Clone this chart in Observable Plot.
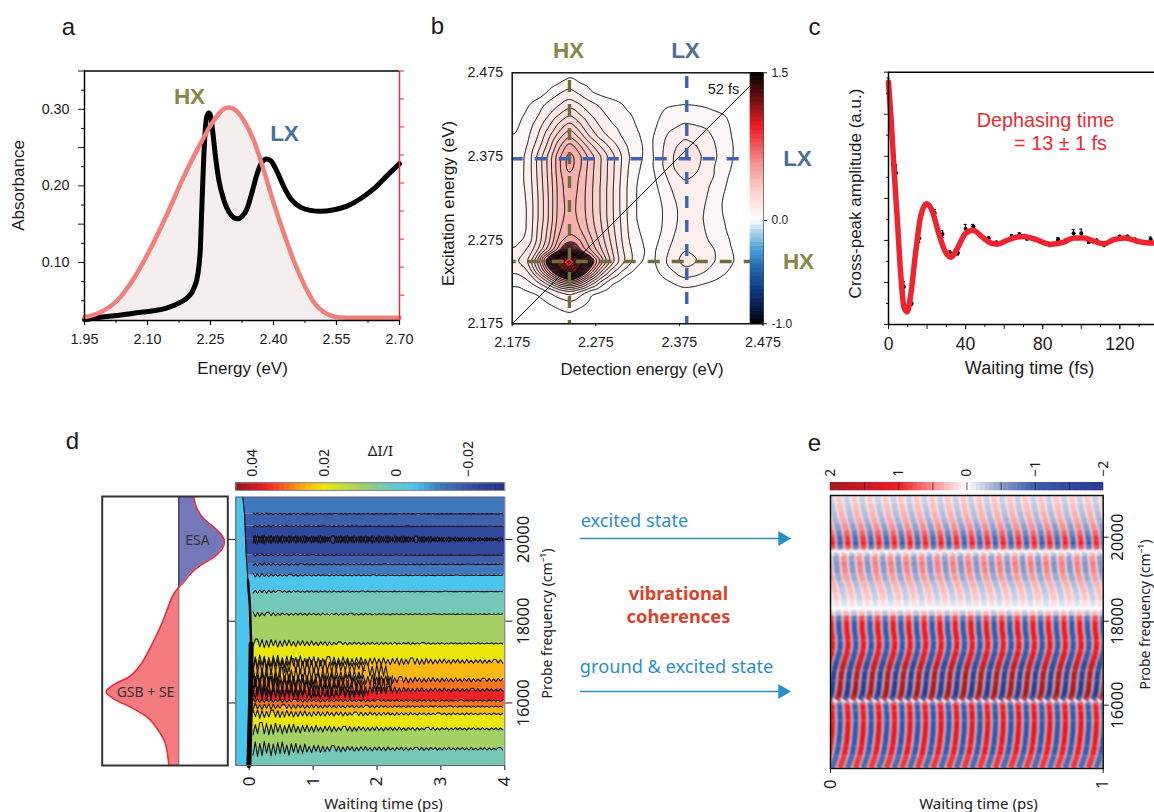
<!DOCTYPE html>
<html><head><meta charset="utf-8">
<script src="https://cdn.jsdelivr.net/npm/d3@7"></script>
<script src="https://cdn.jsdelivr.net/npm/@observablehq/plot@0.6"></script>
<style>html,body{margin:0;padding:0;background:#fff;overflow:hidden}#page{position:relative;width:1154px;height:812px;overflow:hidden}</style>
</head><body><div id="page"></div>
<script>
// ---------- panel a ----------
const absEnergy=[1.950,1.988,2.028,2.067,2.107,2.147,2.179,2.198,2.210,2.220,2.226,2.230,2.234,2.238,2.242,2.246,2.250,2.255,2.262,2.270,2.282,2.294,2.306,2.315,2.325,2.337,2.349,2.361,2.373,2.383,2.394,2.409,2.425,2.444,2.464,2.488,2.512,2.544,2.575,2.607,2.639,2.671,2.700];
const absValue=[.0251,.0285,.0307,.0338,.0364,.0407,.0481,.0556,.0656,.0852,.1200,.1810,.2377,.2769,.2922,.2952,.2922,.2725,.2377,.2072,.1810,.1658,.1584,.1571,.1601,.1702,.1919,.2159,.2312,.2351,.2325,.2181,.1985,.1810,.1723,.1680,.1667,.1688,.1736,.1832,.1963,.2137,.2290];
const emEnergy=[1.950,1.988,2.028,2.067,2.107,2.147,2.186,2.226,2.258,2.278,2.294,2.310,2.329,2.353,2.377,2.401,2.425,2.448,2.472,2.496,2.520,2.544,2.575,2.700];
const emValue=[.0285,.0351,.0503,.0787,.1179,.1636,.2115,.2551,.2856,.2987,.3022,.2987,.2856,.2595,.2203,.1767,.1375,.1026,.0721,.0481,.0351,.0294,.0277,.0277];
const aXMajor=[1.95,2.10,2.25,2.40,2.55,2.70];
const aXMinor=[2.025,2.175,2.325,2.475,2.625];
const aYLabelled=[.10,.20,.30];
const aYMajor=[.15,.25,.35];
const aYMinor=[.05,.075,.125,.175,.225,.275,.325];
const aRedTicks=[.0573,.0939,.1305,.1671,.2037,.2403,.2769,.3135,.35];
// ---------- panel b ----------
const bDetection=[2.1685,2.181,2.1935,2.206,2.2185,2.231,2.2435,2.256,2.2685,2.281,2.2935,2.306,2.3185,2.331,2.3435,2.356,2.3685,2.381,2.3935,2.406,2.4185,2.431,2.4435,2.456,2.4685];
const bExcitation=[2.475,2.4625,2.45,2.4375,2.425,2.4125,2.40,2.3875,2.375,2.3625,2.35,2.3375,2.325,2.3125,2.30,2.2875,2.275,2.2625,2.25,2.2375,2.225,2.2125,2.20,2.1875,2.175];
const bLevelStep=0.05;
// amplitude in contour levels, top row first
const bLevels=[
[0,0,0,0,.1,.3,.6,.3,.1,0,0,0,0,0, 0,0,0,0,0,0,0,0,0,0,0],
[0,0,0,.2,.5,.95,1.6,1.0,.7,.4,.2,.1,0,0, 0,0,0,0,0,0,0,0,0,0,0],
[0,0,.1,.5,1.2,2.0,2.5,1.9,1.1,.8,.5,.2,.1,0, 0,.1,.2,.3,.2,.1,0,0,0,0,0],
[.1,.3,.9,1.5,2.3,2.9,3.6,3.0,2.3,1.8,1.5,1.1,.5,.1, .3,.8,.9,1.0,.95,.85,.6,.2,.1,0,0],
[.3,.6,1.2,1.9,2.9,4.0,5,4.0,3.0,2.2,1.7,1.4,1.0,.3, .5,1.15,1.5,1.6,1.5,1.4,1.2,1.0,.4,.1,0],
[.5,.85,1.6,2.5,3.8,5.3,6.5,5.2,3.8,2.8,2.1,1.7,1.2,.6, .7,1.5,1.8,2.1,2.0,1.9,1.5,1.2,.6,.2,0],
[.95,1.1,1.8,3.0,4.7,6.5,8,6.5,4.7,3.4,2.6,1.9,1.3,.9, .9,1.8,2.4,2.9,2.6,2.3,1.8,1.3,.7,.2,0],
[1.3,1.4,2.0,3.6,5.4,7.8,9.7,8.2,6.4,4.9,3.6,2.5,1.6,.95, .9,2.0,2.9,3.3,3.1,2.6,2.0,1.4,.8,.3,0],
[1.4,1.45,2.3,4.3,6.3,8.8,10.6,9.3,7.6,6.1,4.5,3.0,1.7,.95, .85,2.1,3.1,3.5,3.4,2.8,2.1,1.4,.8,.3,0],
[1.4,1.45,2.3,4.3,6.3,8.8,10.6,9.2,7.5,6.0,4.4,2.9,1.5,.85, .9,2.1,3.1,3.6,3.3,2.6,1.9,1.3,.7,.2,0],
[1.4,1.5,2.3,4.2,6.2,8.6,9.9,8.9,7.4,6.0,4.4,2.8,1.4,.7, .8,1.7,2.6,3.2,2.9,2.4,1.9,1.1,.5,.1,0],
[1.4,1.5,2.2,4.1,6.1,8.5,9.7,8.8,7.3,5.9,4.3,2.7,1.3,.6, .7,1.4,2.2,2.7,2.6,2.2,1.6,.95,.4,0,0],
[1.4,1.5,2.1,4.0,6.0,8.5,9.5,8.7,7.3,5.9,4.3,2.7,1.3,.6, .5,1.2,2.0,2.3,2.3,2.1,1.4,.8,.3,0,0],
[1.4,1.5,2.0,4.0,6.0,8.5,9.4,8.7,7.3,5.9,4.3,2.7,1.3,.6, .4,1.05,1.9,2.2,2.2,2.0,1.3,.8,.3,0,0],
[1.4,1.5,2.0,4.0,6.0,8.6,9.5,8.8,7.4,6.0,4.3,2.8,1.3,.6, .4,1.05,1.9,2.2,2.2,1.95,1.35,.9,.3,0,0],
[1.4,1.6,2.0,4.2,6.3,8.9,9.8,9.1,7.7,6.2,4.5,2.9,1.4,.8, .5,1.1,1.95,2.3,2.3,2.0,1.5,1.0,.4,0,0],
[1.5,1.7,2.2,4.3,6.6,9.4,10.6,10.0,8.3,6.6,4.8,3.0,1.6,.95, .6,1.35,2.1,2.6,2.5,2.1,1.7,1.2,.6,0,0],
[2.0,2.2,3.2,5,7.5,10.5,13.5,11,9,7.2,5.2,3.2,1.9,1.05, .8,1.6,2.4,3.05,2.8,2.3,2.0,1.3,.8,.1,0],
[2.6,3,4,7.5,13,18,22,17,13,9,5.8,3.5,2.0,.95, .8,1.8,2.8,3.4,3.2,2.5,2.0,1.4,.9,.1,0],
[2.2,2.2,2.8,6,10,14,18,14,10,6,3.4,1.9,.95,.4, .6,1.35,2.0,2.8,2.5,2.05,1.5,1.1,.5,0,0],
[1.3,1.2,1.8,3,5,8,9.5,8,5,2.6,1.2,.6,.2,.1, .3,.7,1.1,1.5,1.4,1.1,.9,.5,.2,0,0],
[.6,.7,.9,1.1,1.8,2.6,3.4,2.3,1.1,.8,.4,.1,0,0, 0,.2,.4,.6,.5,.4,.3,.1,0,0,0],
[.1,.2,.4,.7,1.05,1.5,1.8,1.4,.8,.3,.1,0,0,0, 0,0,0,0,0,0,0,0,0,0,0],
[0,0,0,.1,.3,.7,.98,.6,.2,0,0,0,0,0, 0,0,0,0,0,0,0,0,0,0,0],
[0,0,0,0,0,.1,.3,.1,0,0,0,0,0,0, 0,0,0,0,0,0,0,0,0,0,0]];
const bContourNumbers=[1,2,3,4,5,6,7,8,9,10,11,11.25,11.5,11.75,12,12.25,12.5,12.75,13,13.25,13.5,13.75,14,14.25,14.5,14.75,15,15.25,15.5,15.75,16,16.5,17,17.5,18,18.5,19,20,21];
const bTicks=[2.175,2.275,2.375,2.475];
const bHX={detection:2.2435,excitation:2.2495};
const bLX={detection:2.3838,excitation:2.3722};
const bDiagonal=[2.175,2.46];
const bColorDomain=[-1,-.75,-.5,-.3,-.1,0,.3,.55,.95,1.2,1.5];
const bColorRange=["#000000","#0b2a6e","#1f5ca8","#3f9ad6","#b7d8ee","#ffffff","#fad0cc","#f49a98","#ed1c24","#7a1015","#000000"];
// ---------- panel c ----------
const fitTime=[0,1.4,2.8,4.5,6.2,8,9.7,11.4,14,16.6,19.7,22.6,26.1,29.6,32.5,35.6,39.9,43.9,48.6,52.9,56.4,61.5,66.7,70.2,75.4,84,90.9,96.1,101.3,106.5,111.7,116.9,122.9,129,135,138];
const fitValue=[3.76,2.85,1.74,.55,-.71,-1.58,-1.70,-1.34,-.32,.55,.87,.71,.16,-.28,-.40,-.20,.16,.24,.08,-.06,-.09,0,.08,.09,.04,-.09,-.04,.06,.06,-.02,-.08,.02,.06,-.02,-.06,-.06];
const ptTime=[0,4,8,12,16,20,24,28,32,36,40,44,48,52,56,60,64,68,72,76,80,84,88,92,96,100,104,108,112,116,120,124,128,132,136];
const ptValue=[3.78,1.6,-1.1,-1.5,.05,.85,.65,.15,-.3,-.3,.28,.33,.1,.05,-.05,-.03,.09,.14,.04,.02,-.04,-.1,.03,-.02,.17,.17,-.04,0,-.1,-.01,.09,.09,.02,-.05,.03];
const ptError=[.08,.2,.12,.05,.1,.05,.08,.08,.05,.05,.1,.05,.03,.03,.03,.03,.05,.04,.03,.03,.03,.05,.03,.05,.09,.1,.03,.03,.05,.03,.03,.03,.03,.03,.05];
const cXMajor=[0,20,40,60,80,100,120];
const cXMinor=[10,30,50,70,90,110,130];
const cXLabels=[0,40,80,120];
const cYMajor=[-2,-1,0,1,2,3,4];
const cYMinor=[-1.5,-.5,.5,1.5,2.5,3.5];
// ---------- panel d ----------
const specFreq=[21016,20732,20488,20285,20081,19919,19756,19553,19350,19146,18943,18821,18659,18374,18049,17683,17276,16870,16626,16463,16260,16098,15894,15650,15366,14999,14471];
const specSignal=[-.0103,-.0126,-.0172,-.0241,-.0298,-.0314,-.0298,-.0241,-.0149,-.0080,-.0034,0,.0034,.0069,.0103,.0149,.0206,.0275,.0344,.0436,.0500,.0447,.0333,.0218,.0149,.0092,.0069];
const dFreqDomain=[14470,21032];
const dFreqTicks=[16000,18000,20000];
const dTimeTicks=[0,1,2,3,4];
const dBandEdges=[21032,20626,20325,20000,19618,19390,19122,18724,18171,17455,17016,16561,16317,16057,15911,15732,15366,14878,14470];
const dBandValues=[-.012,-.017,-.022,-.022,-.017,-.012,-.005,.003,.01,.02,.025,.03,.036,.03,.025,.02,.01,.003];
const dOnsetFreq=[21032,20626,19618,19122,18724,18171,17455,16000,14470];
const dOnsetTime=[-.10,-.073,-.044,-.005,.03,.05,.05,.05,.03];
const dColorDomain=[-.03,-.022,-.017,-.012,-.005,.003,.01,.02,.025,.03,.036,.0447];
const dColorRange=["#2a2f82","#31479c","#3d5fac","#3f78bc","#4dc4ec","#74c9b6","#a3d164","#ebe60e","#fdb813","#f47421","#ed2224","#8e1a1d"];
const dBarTicks=[.04,.02,0,-.02];
const dBarLabels=["0.04","0.02","0","\u22120.02"];
const ampTimes=[.1,.5,1,1.5,2,2.5,3,4];
const dLineFreq=[20626,20325,19618,19390,19122,18724,18171,17455,17016,16561,16317,16057,15911,15732,15366,14878];
const dLineAmp=[[25,15,12,8,7,7,5,5],[25,15,10,8,6,5,4,3],[30,15,10,8,6,5,4,3],[40,25,20,15,12,10,8,6],[50,25,20,15,12,10,8,6],[50,25,20,15,12,10,8,6],[60,30,25,25,20,15,12,10],[110,90,60,35,30,25,18,14],[160,150,130,110,90,90,60,45],[180,150,150,140,130,70,55,40],[200,180,170,170,110,55,45,35],[45,45,35,30,25,25,20,15],[80,60,45,35,28,22,20,15],[110,90,65,50,40,32,25,20],[170,130,90,65,50,42,32,28],[190,170,100,65,50,42,35,30]];
const dExtraFreq=[16900,16680,16440,16220];
const dExtraAmp=[[220,200,170,130,100,0,0,0],[220,200,170,140,110,0,0,0],[220,190,150,130,110,0,0,0],[170,150,120,110,90,0,0,0]];
const dBumpFreq=[16450,16790];
const dBumpSpan=[[1.9,2.25],[1.85,2.2]];
const dBumpAmp=[[230,230,230,230,230,230,230,230],[170,170,170,170,170,170,170,170]];
const dChainFreq=20000;
const dChainAmp=[115,100,95,95,90,85,65,35];
const wiggleShape=[1,-.8,.9,-1,.7,-.9,1,-.6,.8,-.95,.65,-.85,.9,-.7,1,-.75,.6,-1,.85,-.65,.95,-.8,.7,-.9,1,-.7,.55,-.95,.8,-.6,.9,-1,.75,-.85,.6,-.7,.95];
const dFrontTime=[-.10,-.073,-.047,-.02,.01,.03,.02,-.005];
const dFrontFreq=[21032,20626,19618,19000,18400,17450,16000,14470];
// ---------- panel e ----------
const eFreqDomain=[14493,20993];
const eFreqTicks=[16000,18000,20000];
const eKnotFreq=[20993,20802,20636,20469,20326,20160,20040,19921,19802,19707,19636,19564,19445,19326,19136,18969,18802,18659,18493,18350,18302,18255,18136,18017,17779,17540,17302,17064,16826,16588,16350,16183,16124,16076,16017,15874,15636,15398,15041,14803,14493];
const eKnotLag=[-.033,-.031,-.0245,-.02,-.012,-.0055,-.0018,0,.0011,.0018,-.011,-.0157,-.0139,-.0117,-.0092,-.0018,.0073,.0121,.0165,.0146,-.0062,-.0062,-.0055,-.0044,-.0037,.0018,0,-.011,-.022,-.0256,-.0293,-.0348,-.0403,-.0037,-.0018,0,.0011,0,-.0055,-.0128,-.0293];
const eKnotAmp=[.25,.3,.35,.4,.5,.7,.9,1,.8,.5,.3,.5,.6,.55,.45,.35,.3,.25,.15,.02,.02,.3,.8,1,1,1.05,1.1,1.5,1.8,1.9,1.9,1.7,1.3,.8,1,1.05,1.1,1.1,1,.9,.6];
const eKnotBreaks=[19707,18350,16124];
const eRedCrests=[.0062,.0632,.1201,.1771,.2340,.2910,.3480,.4049,.4619,.5188,.5758,.6328,.6897,.7467,.8036,.8606,.9176,.9745,1.0315,1.0885];
const eBlueCrests=[-.0223,.0347,.0917,.1486,.2056,.2625,.3195,.3765,.4334,.4904,.5473,.6043,.6613,.7182,.7752,.8321,.8891,.9461,1.003,1.06];
const eColorDomain=[-2,-1,-.5,0,.5,1,2];
const eColorRange=["#2b3990","#3a5aa8","#8f9ccb","#ffffff","#f68d91","#ed1c24","#a01c22"];
const eBarTicks=[2,1,0,-1,-2];
const eBarInner=[1.5,1,.5,0,-.5,-1,-1.5];
const eBarLabels=["2","1","0","\u22121","\u22122"];

// ---------- helpers ----------
const SANS='"Liberation Sans",Arial,sans-serif';
const MYR='"Noto Sans",sans-serif';
const page=document.getElementById("page");
function panel(box,opts,font=SANS,size=14){
  const {x,y,...rest}=opts;
  const svg=Plot.plot({width:1154,height:812,marginLeft:box.l,marginTop:box.t,marginRight:1154-box.r,marginBottom:812-box.b,
    x:{axis:null,...x},y:{axis:null,...y},
    style:{background:"transparent",position:"absolute",left:"0",top:"0",overflow:"visible",fontFamily:font,fontSize:size+"px",color:"#1a1a1a"},...rest});
  page.appendChild(svg);return svg;
}
const none=()=>"";
const zip=(a,b,k1="x",k2="y")=>a.map((d,i)=>({[k1]:d,[k2]:b[i]}));
const steps=(lo,hi,n)=>d3.range(n).map(i=>({a:lo+(hi-lo)*i/n,b:lo+(hi-lo)*(i+1)/n,v:lo+(hi-lo)*(i+.5)/n}));

// ---------- panel a ----------
{
 const abs=zip(absEnergy,absValue),em=zip(emEnergy,emValue),low=.0242;
 panel({l:84,t:70.5,r:399,b:320},{x:{domain:[1.95,2.70]},y:{domain:[low,.35]},marks:[
  Plot.areaY(em,{x:"x",y1:low,y2:"y",fill:"#f4eeee",curve:"monotone-x"}),
  Plot.line(abs,{x:"x",y:"y",stroke:"#000",strokeWidth:5,curve:"monotone-x"}),
  Plot.line(em,{x:"x",y:"y",stroke:"#f27f7c",strokeWidth:4.5,curve:"monotone-x"}),
  Plot.axisX(aXMajor,{tickSize:5,tickPadding:8,tickFormat:d3.format(".2f"),stroke:"#000",strokeWidth:1.2,label:null}),
  Plot.axisX(aXMinor,{tickSize:3,tickFormat:none,label:null}),
  Plot.axisY(aYLabelled,{tickSize:6,tickPadding:9,tickFormat:d3.format(".2f"),label:null}),
  Plot.axisY(aYMajor,{tickSize:6,tickFormat:none,label:null}),
  Plot.axisY(aYMinor,{tickSize:3,tickFormat:none,label:null}),
  Plot.axisY(aRedTicks,{anchor:"right",tickSize:4,stroke:"#ee2a35",tickFormat:none,label:null}),
  Plot.ruleY([.35],{stroke:"#000",strokeWidth:1.5}),
  Plot.ruleY([low],{stroke:"#000",strokeWidth:1.5}),
  Plot.ruleX([1.95],{stroke:"#000",strokeWidth:1.5}),
  Plot.ruleX([2.70],{stroke:"#ee2a35",strokeWidth:1.5})
 ]},SANS,14.3);
}
// ---------- panel b ----------
{
 const table=bExcitation.flatMap((y,r)=>bDetection.map((x,c)=>({x,y,v:bLevels[r][c]*bLevelStep})));
 const dash=(c,o)=>({stroke:c,strokeWidth:3.4,strokeDasharray:"12 12",strokeDashoffset:o});
 const olive="#6d6e3c",blue="#4262b2";
 const colorB={type:"linear",domain:bColorDomain,range:bColorRange};
 panel({l:511.7,t:72.3,r:762.5,b:323.3},{x:{domain:[2.175,2.475]},y:{domain:[2.175,2.475]},color:colorB,marks:[
  Plot.contour(table,{x:"x",y:"y",value:"v",fill:"value",stroke:"#000",strokeWidth:1,interpolate:"barycentric",pixelSize:1,blur:2,thresholds:bContourNumbers.map(n=>n*bLevelStep),clip:true}),
  Plot.line(zip(bDiagonal,bDiagonal),{x:"x",y:"y",stroke:"#111",strokeWidth:1}),
  Plot.ruleX([bHX.detection],dash(olive,16.3)),
  Plot.ruleX([bLX.detection],dash(blue,20.3)),
  Plot.ruleY([bLX.excitation],dash(blue,1)),
  Plot.ruleY([bHX.excitation],dash(olive,8)),
  Plot.axisX(bTicks,{tickSize:3,tickPadding:10,tickFormat:d3.format(".3f"),label:null}),
  Plot.axisY(bTicks,{tickSize:0,tickPadding:9,tickFormat:d3.format(".3f"),label:null}),
  Plot.frame({stroke:"#111",strokeWidth:1.5})
 ]},SANS,14.3);
 // the colour bar runs in two linear pieces that meet at zero
 panel({l:750,t:72.3,r:763,b:220},{x:{domain:[0,1]},y:{domain:[0,1.5]},color:colorB,marks:[
  Plot.rect(steps(0,1.5,36),{x1:0,x2:1,y1:"a",y2:"b",fill:"v",inset:-.3}),
  Plot.axisY([0,1.5],{anchor:"right",tickSize:3,tickPadding:5,tickFormat:d=>d.toFixed(1),label:null})
 ]},SANS,12);
 panel({l:750,t:220,r:763,b:323.3},{x:{domain:[0,1]},y:{domain:[-1,0]},color:colorB,marks:[
  Plot.rect(steps(-1,0,24),{x1:0,x2:1,y1:"a",y2:"b",fill:"v",inset:-.3}),
  Plot.axisY([-1],{anchor:"right",tickSize:3,tickPadding:5,tickFormat:d=>d.toFixed(1),label:null})
 ]},SANS,12);
}
// ---------- panel c ----------
{
 const pts=ptTime.map((x,i)=>({x,y:ptValue[i],e:ptError[i]}));
 panel({l:888,t:71.7,r:1154,b:324},{x:{domain:[0,138]},y:{domain:[-2,4]},marks:[
  Plot.ruleX(pts,{x:"x",y1:d=>d.y-d.e,y2:d=>d.y+d.e,stroke:"#000",strokeWidth:1}),
  Plot.ruleY(pts,{y:d=>d.y+d.e,x1:d=>d.x-.8,x2:d=>d.x+.8,stroke:"#000",strokeWidth:1}),
  Plot.ruleY(pts,{y:d=>d.y-d.e,x1:d=>d.x-.8,x2:d=>d.x+.8,stroke:"#000",strokeWidth:1}),
  Plot.dot(pts,{x:"x",y:"y",r:2,fill:"#000"}),
  Plot.line(zip(fitTime,fitValue),{x:"x",y:"y",stroke:"#ee2530",strokeWidth:5.5,curve:"monotone-x"}),
  Plot.axisX(cXMajor,{tickSize:5,tickFormat:none,label:null}),
  Plot.axisX(cXMinor,{tickSize:3,tickFormat:none,label:null}),
  Plot.axisX(cXLabels,{tickSize:5,tickPadding:8,tickFormat:d3.format("d"),label:null}),
  Plot.axisY(cYMajor,{tickSize:4,tickFormat:none,label:null}),
  Plot.axisY(cYMinor,{tickSize:2,tickFormat:none,label:null}),
  Plot.ruleY([4],{stroke:"#000",strokeWidth:1.5}),
  Plot.ruleY([-2],{stroke:"#000",strokeWidth:1.5}),
  Plot.ruleX([0],{stroke:"#000",strokeWidth:1.5})
 ]},SANS,17.5);
}
// ---------- panel d ----------
{
 const spec=zip(specSignal,specFreq);
 panel({l:101.7,t:496,r:227.3,b:765},{x:{domain:[.0527,-.0337]},y:{domain:dFreqDomain},marks:[
  Plot.areaX(spec.filter(d=>d.x<=0),{y:"y",x1:()=>0,x2:"x",fill:"#7478b8",curve:"monotone-y"}),
  Plot.areaX(spec.filter(d=>d.x>=0),{y:"y",x1:()=>0,x2:"x",fill:"#f47b80",curve:"monotone-y"}),
  Plot.ruleX([0],{y1:18821,y2:21032,stroke:"#222",strokeWidth:1}),
  Plot.ruleX([0],{y1:14470,y2:18821,stroke:"#6b5a5a",strokeWidth:1}),
  Plot.line(spec,{x:"x",y:"y",stroke:"#ee2a35",strokeWidth:1.5,curve:"monotone-y"}),
  Plot.frame({stroke:"#333",strokeWidth:2})
 ]},MYR,14);
 const bands=dBandValues.map((v,i)=>({y1:dBandEdges[i],y2:dBandEdges[i+1],v}));
 const times=d3.range(.06,4.02,.0352);
 const wavy=(base,amps,i,sign=1,start=0,end=4)=>{const a=d3.scaleLinear(ampTimes,amps);
   return times.map((t,k)=>({id:i,t,f:base+sign*a(t)*wiggleShape[(k+i*5)%wiggleShape.length]})).filter(d=>d.t>=start&&d.t<=end);};
 const wig=[...dLineFreq.flatMap((f,i)=>wavy(f,dLineAmp[i],i)),
   ...dExtraFreq.flatMap((f,i)=>wavy(f,dExtraAmp[i],100+i,1,0,1.85)),
   ...dBumpFreq.flatMap((f,i)=>wavy(f,dBumpAmp[i],110+i,1,dBumpSpan[i][0],dBumpSpan[i][1])),
   ...wavy(dChainFreq,dChainAmp,200,1),...wavy(dChainFreq,dChainAmp,200+wiggleShape.length*100,-1)];
 const onset=zip(dOnsetTime,dOnsetFreq);
 const front=zip(dFrontTime,dFrontFreq);
 const colorD={type:"linear",domain:dColorDomain,range:dColorRange};
 panel({l:235.3,t:496.7,r:504.3,b:765},{x:{domain:[-.21,4]},y:{domain:dFreqDomain},color:colorD,marks:[
  Plot.rect(bands,{x1:-.21,x2:4,y1:"y1",y2:"y2",fill:"v"}),
  Plot.areaX(onset,{y:"y",x1:()=>-.21,x2:"x",fill:"#4dc4ec"}),
  Plot.line(wig,{x:"t",y:"f",z:"id",stroke:"#111",strokeWidth:1.1,clip:true}),
  Plot.line(front.slice(0,4),{x:"x",y:"y",stroke:"#111",strokeWidth:1.2}),
  Plot.line(front.slice(3,6),{x:"x",y:"y",stroke:"#000",strokeWidth:2.5}),
  Plot.line(front.slice(5),{x:"x",y:"y",stroke:"#000",strokeWidth:5}),
  Plot.axisX(dTimeTicks,{tickSize:5,tickPadding:6,tickRotate:-90,stroke:"#111",tickFormat:d3.format("d"),fontSize:17,label:null}),
  Plot.axisY(dFreqTicks,{anchor:"left",tickSize:7,tickFormat:none,label:null}),
  Plot.axisY(dFreqTicks,{anchor:"right",tickSize:7,tickPadding:17,tickRotate:-90,tickFormat:d3.format("d"),fontSize:16.5,label:null}),
  Plot.frame({stroke:"#667",strokeWidth:1})
 ]},MYR,14);
 panel({l:235.3,t:482.3,r:504.3,b:490},{x:{domain:[.0447,-.03]},y:{domain:[0,1]},color:colorD,marks:[
  Plot.rect(steps(-.03,.0447,50),{x1:"a",x2:"b",y1:0,y2:1,fill:"v",inset:-.3}),
  Plot.axisX(dBarTicks,{anchor:"top",tickSize:0,tickPadding:6,tickRotate:-90,tickFormat:d=>dBarLabels[dBarTicks.indexOf(d)],label:null}),
  Plot.frame({stroke:"#889",strokeWidth:1})
 ]},MYR,14);
}
// ---------- panel e ----------
{
 const section=f=>eKnotBreaks.filter(b=>f<=b-1).length;
 const knot=(crest,sign,id)=>eKnotFreq.map((f,i)=>({id:id+"-"+section(f),f,t:crest+eKnotLag[i],v:sign*eKnotAmp[i]}));
 const rows=[...eBlueCrests.flatMap((c,i)=>knot(c,-1,"b"+i)),...eRedCrests.flatMap((c,i)=>knot(c,1,"r"+i))];
 const colorE={type:"linear",domain:eColorDomain,range:eColorRange};
 panel({l:830,t:495,r:1102.7,b:768},{x:{domain:[0,1]},y:{domain:eFreqDomain},color:colorE,marks:[
  Plot.line(rows,{x:"t",y:"f",z:"id",stroke:"v",strokeWidth:6.3,clip:true,imageFilter:"blur(.8px)",strokeLinecap:"butt"}),
  Plot.axisX([0,1],{tickSize:5,tickPadding:6,tickRotate:-90,tickFormat:d3.format("d"),fontSize:16.5,label:null}),
  Plot.axisY(eFreqTicks,{anchor:"right",tickSize:5,tickPadding:15,tickRotate:-90,tickFormat:d3.format("d"),fontSize:16.5,label:null}),
  Plot.frame({stroke:"#111",strokeWidth:1.5})
 ]},MYR,14);
 panel({l:830,t:482.3,r:1103,b:490},{x:{domain:[2,-2]},y:{domain:[0,1]},color:colorE,marks:[
  Plot.rect(steps(-2,2,60),{x1:"a",x2:"b",y1:0,y2:1,fill:"v",inset:-.3}),
  Plot.ruleX(eBarInner,{stroke:"#222",strokeWidth:.7}),
  Plot.axisX(eBarTicks,{anchor:"top",tickSize:0,tickPadding:6,tickRotate:-90,tickFormat:d=>eBarLabels[eBarTicks.indexOf(d)],label:null}),
 ]},MYR,14);
}
// ---------- annotations ----------
const olive="#8a8648",steel="#4a7098",arrowBlue="#2b8ecb",redText="#ee2a35",orangeText="#d9432a";
const notes=[
 {t:"a",x:68,y:27,s:24},{t:"b",x:437,y:26,s:24},{t:"c",x:814,y:27,s:24},{t:"d",x:72,y:441,s:24},{t:"e",x:814,y:443,s:24},
 {t:"Energy (eV)",x:242,y:368,s:17},{t:"Absorbance",x:18,y:185,s:17,r:-90},
 {t:"HX",x:189,y:96,s:22.5,c:olive,w:"bold"},{t:"LX",x:284,y:133,s:22.5,c:steel,w:"bold"},
 {t:"HX",x:568,y:50,s:22.5,c:olive,w:"bold"},{t:"LX",x:685,y:50,s:22.5,c:steel,w:"bold"},
 {t:"LX",x:797,y:158,s:22.5,c:steel,w:"bold"},{t:"HX",x:798,y:261,s:22.5,c:olive,w:"bold"},
 {t:"52 fs",x:723,y:89,s:14.5},
 {t:"Detection energy (eV)",x:641.5,y:369,s:16.8},{t:"Excitation energy (eV)",x:448,y:203,s:16.8,r:-90},
 {t:"Dephasing time",x:1045,y:120,s:19.8,c:redText},{t:"= 13 \u00b1 1 fs",x:1060,y:143,s:19.8,c:redText},
 {t:"Waiting time (fs)",x:1029,y:368,s:18},{t:"Cross-peak amplitude (a.u.)",x:855,y:193,s:17,r:-90},
 {t:"ESA",x:197,y:540,s:14,f:MYR,c:"#333"},{t:"GSB + SE",x:145,y:692,s:14,f:MYR,c:"#333"},
 {t:"\u0394I/I",x:380,y:451,s:15,f:MYR},{t:"Waiting time (ps)",x:383,y:804,s:15,f:MYR},
 {t:"Probe frequency (cm\u207b\u00b9)",x:547,y:623,s:14,r:-90,f:MYR},
 {t:"Waiting time (ps)",x:978,y:804,s:15,f:MYR},{t:"Probe frequency (cm\u207b\u00b9)",x:1145,y:614,s:14,r:-90,f:MYR},
 {t:"excited state",x:634,y:521,s:18.2,c:arrowBlue,f:MYR},{t:"ground & excited state",x:676,y:667,s:18.2,c:arrowBlue,f:MYR},
 {t:"vibrational",x:678,y:594,s:18.3,c:orangeText,f:MYR,w:"bold"},{t:"coherences",x:678,y:617,s:18.3,c:orangeText,f:MYR,w:"bold"}
];
const arrows=[{x1:580,x2:782,y:538},{x1:580,x2:782,y:691}];
panel({l:0,t:0,r:1154,b:812},{x:{domain:[0,1154]},y:{domain:[812,0]},marks:[
 ...notes.map(n=>Plot.text([n],{x:"x",y:"y",text:"t",fontSize:n.s,fontFamily:n.f||SANS,fontWeight:n.w||"normal",fill:n.c||"#1a1a1a",rotate:n.r||0,textAnchor:"middle",lineAnchor:"middle"})),
 Plot.ruleY(arrows,{y:"y",x1:"x1",x2:"x2",stroke:arrowBlue,strokeWidth:1.6}),
 Plot.dot(arrows,{x:"x2",y:"y",symbol:"triangle",r:5.5,rotate:90,fill:arrowBlue})
]});
</script></body></html>
